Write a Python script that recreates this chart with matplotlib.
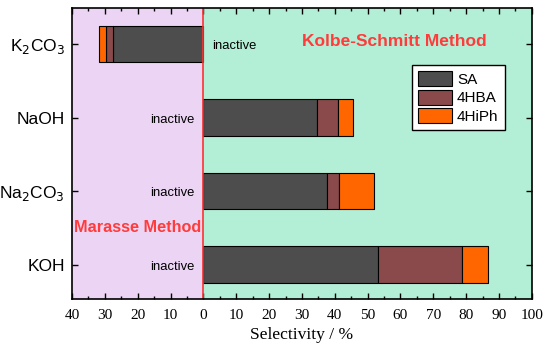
import numpy as np
import matplotlib.pyplot as plt
from matplotlib.ticker import MultipleLocator, FuncFormatter

bases = ['KOH', 'Na$_2$CO$_3$', 'NaOH', 'K$_2$CO$_3$']
# segment values (selectivity %), K2CO3 goes to the Marasse side (negative)
sa = [53.2, 37.7, 34.6, -27.4]
hba = [25.6, 3.6, 6.4, -2.4]
hiph = [7.9, 10.7, 4.4, -2.1]
colors = ['#4d4d4d', '#8a4a4b', '#ff6600']
names = ['SA', '4HBA', '4HiPh']

plt.rcParams['font.family'] = ['Liberation Sans', 'DejaVu Sans']

fig = plt.figure(figsize=(5.5, 3.47), dpi=100)
ax = fig.add_axes([0.131, 0.138, 0.836, 0.839])

ax.axvspan(-40, 0, color='#ecd5f4', zorder=0)
ax.axvspan(0, 100, color='#b3efd6', zorder=0)
ax.axvline(0, color='#ff3333', lw=1.2, zorder=3)

y = np.arange(len(bases))
left = np.zeros(len(bases))
for vals, c, n in zip([sa, hba, hiph], colors, names):
    ax.barh(y, vals, height=0.5, left=left, color=c, edgecolor='black',
            linewidth=0.8, label=n, zorder=2)
    left += np.array(vals)

for i in range(3):
    ax.text(-2.8, y[i] - 0.03, 'inactive', ha='right', va='center', fontsize=9.4)
ax.text(2.5, y[3] - 0.03, 'inactive', ha='left', va='center', fontsize=9.4)

ax.text(58, 3.03, 'Kolbe-Schmitt Method', color='#ff3b3b', fontweight='bold',
        fontsize=12.5, ha='center', va='center')
ax.text(-20, 0.5, 'Marasse Method', color='#ff3b3b', fontweight='bold',
        fontsize=11.7, ha='center', va='center')

ax.set_xlim(-40, 100)
ax.set_ylim(-0.47, 3.49)
ax.xaxis.set_major_locator(MultipleLocator(10))
ax.xaxis.set_minor_locator(MultipleLocator(5))
ax.xaxis.set_major_formatter(FuncFormatter(lambda v, p: f'{abs(v):.0f}'))
ax.set_yticks(y)
ax.set_yticklabels(bases, fontsize=12.5)
for lab in ax.get_xticklabels():
    lab.set_fontfamily('Liberation Serif')
    lab.set_fontsize(11)
ax.set_xlabel('Selectivity / %', fontfamily='Liberation Serif', fontsize=12.6, labelpad=4)
ax.tick_params(axis='both', which='both', direction='in', top=True, right=True, width=1)
ax.tick_params(axis='both', which='major', length=4)
ax.tick_params(axis='both', which='minor', length=2)
ax.tick_params(axis='x', pad=7)
ax.tick_params(axis='y', pad=5)
for s in ax.spines.values():
    s.set_linewidth(1.2)
    s.set_zorder(5)

leg = ax.legend(loc='upper right', bbox_to_anchor=(0.941, 0.804), fontsize=11,
                fancybox=False, edgecolor='black', framealpha=1,
                handlelength=2.2, handleheight=1.15, labelspacing=0.18,
                borderpad=0.4, handletextpad=0.35, borderaxespad=0)
leg.get_frame().set_linewidth(1.0)

fig.savefig('out.png', dpi=100)
